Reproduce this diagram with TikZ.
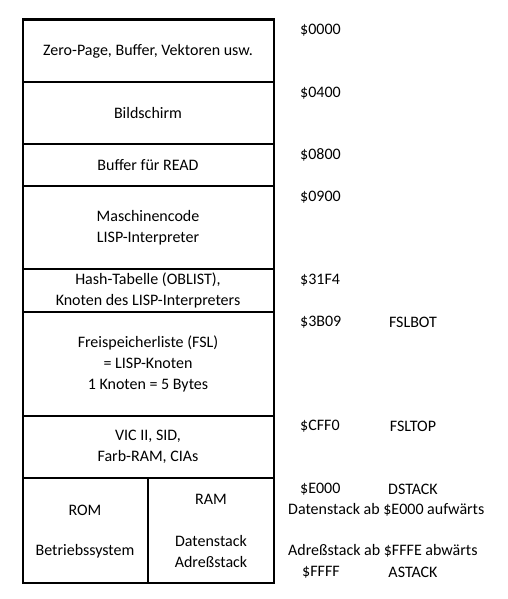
\documentclass[tikz,border=0pt]{standalone}
\usepackage{fontspec}
\setmainfont{Carlito}
\begin{document}
\begin{tikzpicture}[x=1pt,y=-1pt,
  lbl/.style={inner sep=0pt,align=center,font=\fontsize{16}{21}\selectfont,anchor=center},
  addr/.style={inner sep=0pt,font=\fontsize{16}{21}\selectfont,anchor=west},
  sym/.style={inner sep=0pt,font=\fontsize{16}{21}\selectfont,anchor=center},
  thin/.style={line width=1.2pt},
  outer/.style={line width=2.6pt}]
\useasboundingbox (0,0) rectangle (508,599);
% dividers
\coordinate (L1) at (23,82);  \coordinate (R1) at (274,82);
\coordinate (L2) at (23,144); \coordinate (R2) at (274,144);
\coordinate (L3) at (23,186); \coordinate (R3) at (274,186);
\coordinate (L4) at (23,269); \coordinate (R4) at (274,269);
\coordinate (L5) at (23,312); \coordinate (R5) at (274,312);
\coordinate (L6) at (23,416); \coordinate (R6) at (274,416);
\coordinate (L7) at (23,478); \coordinate (R7) at (274,478);
\coordinate (VT) at (148,478); \coordinate (VB) at (148,583);
\draw[thin] (L1) -- (R1) (L2) -- (R2) (L3) -- (R3) (L4) -- (R4)
  (L5) -- (R5) (L6) -- (R6) (L7) -- (R7) (VT) -- (VB);
\draw[outer] (23,19.5) rectangle (274,583);
% box texts
\node[lbl] (zp) at (148,51) {Zero-Page, Buffer, Vektoren usw.};
\node[lbl] (bs) at (148,113) {Bildschirm};
\node[lbl] (br) at (148,165) {Buffer für READ};
\node[lbl] (mc) at (148,227.5) {Maschinencode\\LISP-Interpreter};
\node[lbl] (ht) at (148,290) {Hash-Tabelle (OBLIST),\\Knoten des LISP-Interpreters};
\node[lbl] (fsl) at (148,363.5) {Freispeicherliste (FSL)\\= LISP-Knoten\\1 Knoten = 5 Bytes};
\node[lbl] (vic) at (148,446.5) {VIC II, SID,\\Farb-RAM, CIAs};
\node[lbl] (rom) at (85,510) {ROM};
\node[lbl] (bet) at (85,551) {Betriebssystem};
\node[lbl] (ram) at (211,499) {RAM};
\node[lbl] (ds) at (211,551.5) {Datenstack\\Adreßstack};
% addresses
\node[addr] (a0) at (300,30) {\$0000};
\node[addr] (a1) at (300,93) {\$0400};
\node[addr] (a2) at (300,155) {\$0800};
\node[addr] (a3) at (300,197) {\$0900};
\node[addr] (a4) at (300,280) {\$31F4};
\node[addr] (a5) at (300,322) {\$3B09};
\node[sym] (s5) at (413,322) {FSLBOT};
\node[addr] (a6) at (300,426) {\$CFF0};
\node[sym] (s6) at (413,426) {FSLTOP};
\node[addr] (a7) at (300,489) {\$E000};
\node[sym] (s7) at (413,489) {DSTACK};
\node[addr] (t1) at (288,510) {Datenstack ab \$E000 aufwärts};
\node[addr] (t2) at (288,551) {Adreßstack ab \$FFFE abwärts};
\node[addr] (a8) at (302,572) {\$FFFF};
\node[sym] (s8) at (413,572) {ASTACK};
\end{tikzpicture}
\end{document}
